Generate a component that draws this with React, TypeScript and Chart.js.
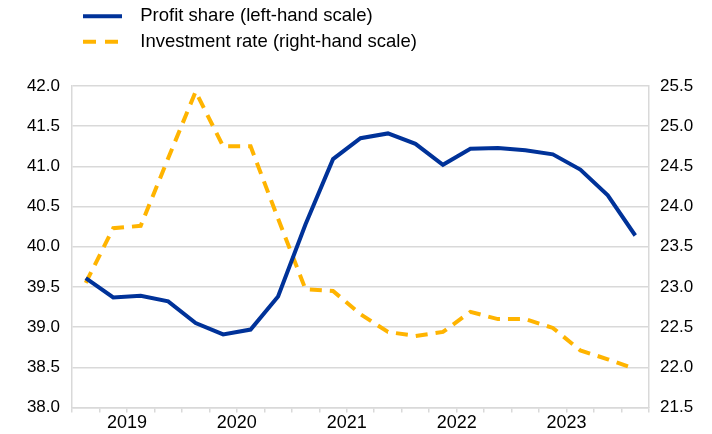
import React, { useEffect, useRef } from 'react';
import { Chart, registerables } from 'chart.js';

Chart.register(...registerables);

const FONT = "'Liberation Sans', Arial, Helvetica, sans-serif";
const BLUE = '#003299';
const YELLOW = '#FFB400';
const GRID = '#d9d9d9';

// Quarterly observations, 2019 Q1 – 2024 Q1
const quarters = [
  '2019Q1', '2019Q2', '2019Q3', '2019Q4',
  '2020Q1', '2020Q2', '2020Q3', '2020Q4',
  '2021Q1', '2021Q2', '2021Q3', '2021Q4',
  '2022Q1', '2022Q2', '2022Q3', '2022Q4',
  '2023Q1', '2023Q2', '2023Q3', '2023Q4',
  '2024Q1',
];
const yearLabels = ['2019', '2020', '2021', '2022', '2023'];

const profitShare = [
  39.61, 39.37, 39.39, 39.32,
  39.05, 38.91, 38.97, 39.38,
  40.28, 41.09, 41.35, 41.41,
  41.28, 41.02, 41.22, 41.23,
  41.20, 41.15, 40.96, 40.64,
  40.14,
];
const investmentRate = [
  23.05, 23.73, 23.76, 24.60,
  25.43, 24.75, 24.75, 23.85,
  22.97, 22.95, 22.66, 22.44,
  22.39, 22.44, 22.69, 22.60,
  22.60, 22.49, 22.21, 22.10,
  21.98,
];

const seriesLabels = ['Profit share (left-hand scale)', 'Investment rate (right-hand scale)'];

function makeSample(color: string, dash: number[], from: number, to: number) {
  const c = document.createElement('canvas');
  c.width = 52;
  c.height = 8;
  const g = c.getContext('2d');
  if (g) {
    g.strokeStyle = color;
    g.lineWidth = 4;
    g.setLineDash(dash);
    g.beginPath();
    g.moveTo(from, 4);
    g.lineTo(to, 4);
    g.stroke();
  }
  return c;
}

export default function App() {
  const ref = useRef<HTMLCanvasElement | null>(null);

  useEffect(() => {
    if (!ref.current) return;
    const samples = [makeSample(BLUE, [], 4, 43), makeSample(YELLOW, [13, 9], 4, 40)];

    const chart = new Chart(ref.current, {
      type: 'line',
      data: {
        datasets: [
          {
            label: seriesLabels[0],
            data: profitShare.map((y, i) => ({ x: i, y })),
            yAxisID: 'y',
            borderColor: BLUE,
            backgroundColor: BLUE,
            borderWidth: 4,
            pointRadius: 0,
            tension: 0,
            fill: false,
          },
          {
            label: seriesLabels[1],
            data: investmentRate.map((y, i) => ({ x: i, y })),
            yAxisID: 'y1',
            borderColor: YELLOW,
            backgroundColor: YELLOW,
            borderWidth: 4,
            borderDash: [12, 8],
            pointRadius: 0,
            tension: 0,
            fill: false,
          },
        ],
      },
      options: {
        responsive: false,
        animation: false,
        events: [],
        layout: { padding: 0 },
        plugins: {
          legend: {
            position: 'top',
            align: 'start',
            fullSize: false,
            labels: {
              usePointStyle: true,
              pointStyleWidth: 52,
              padding: 7,
              color: '#000',
              font: { family: FONT, size: 18.5 },
              generateLabels: (c: any) => {
                const items = Chart.defaults.plugins.legend.labels.generateLabels(c);
                return items.map((it: any, i: number) => ({ ...it, pointStyle: samples[i] }));
              },
            },
          },
          subtitle: {
            display: true,
            text: '',
            weight: 500,
            padding: 0,
            font: { size: 25, lineHeight: 1 },
          } as any,
          tooltip: { enabled: false },
        },
        scales: {
          x: {
            type: 'linear',
            min: -0.5,
            max: 20.5,
            afterFit: (s: any) => { s.height = 26.5; },
            grid: { drawOnChartArea: false, drawTicks: true, tickLength: 5, color: GRID, lineWidth: 1.5 },
            border: { color: GRID, width: 1.5 },
            ticks: {
              stepSize: 1,
              autoSkip: false,
              maxRotation: 0,
              minRotation: 0,
              padding: 0,
              color: '#000',
              font: { family: FONT, size: 18 },
              callback: (value: any) => {
                const k = (Number(value) - 1.5) / 4;
                return Number.isInteger(k) && k >= 0 && k < yearLabels.length ? yearLabels[k] : '';
              },
            },
          },
          y: {
            position: 'left',
            min: 38,
            max: 42,
            afterFit: (s: any) => { s.width = 72; },
            grid: { color: GRID, lineWidth: 1.5, drawTicks: false },
            border: { color: GRID, width: 1.5 },
            ticks: {
              stepSize: 0.5,
              padding: 12,
              color: '#000',
              font: { family: FONT, size: 17 },
              callback: (v: any) => Number(v).toFixed(1),
            },
          },
          y1: {
            position: 'right',
            min: 21.5,
            max: 25.5,
            afterFit: (s: any) => { s.width = 63; },
            grid: { drawOnChartArea: false, drawTicks: false },
            border: { color: GRID, width: 1.5 },
            ticks: {
              stepSize: 0.5,
              padding: 11,
              color: '#000',
              font: { family: FONT, size: 17 },
              callback: (v: any) => Number(v).toFixed(1),
            },
          },
        },
      } as any,
    });

    return () => chart.destroy();
  }, []);

  return (
    <div style={{ position: 'fixed', left: 0, top: 0, width: 712, height: 434, background: '#fff' }}>
      <canvas ref={ref} width={712} height={434} style={{ display: 'block' }} />
    </div>
  );
}
